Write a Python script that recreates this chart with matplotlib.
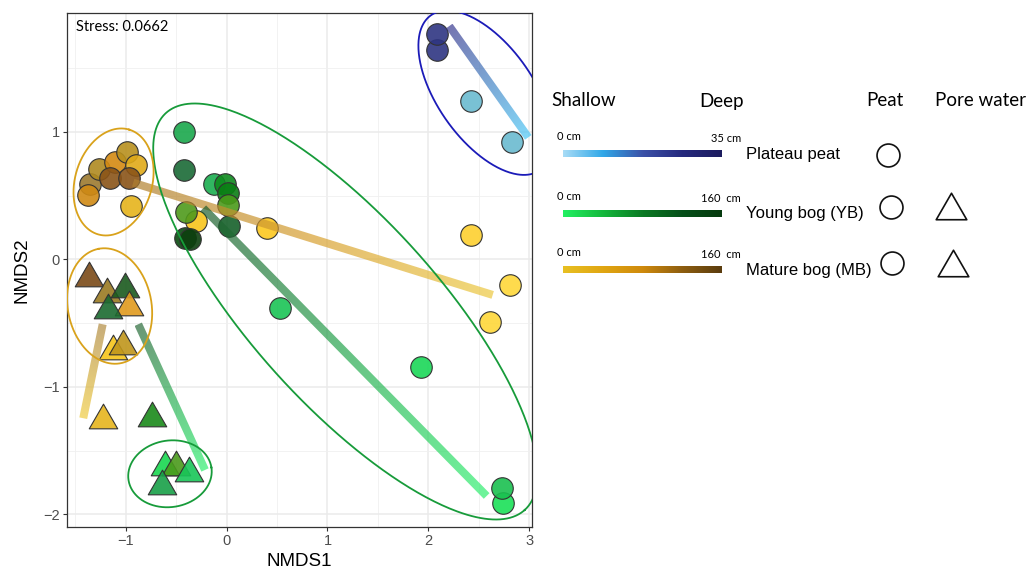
import numpy as np
import matplotlib.pyplot as plt
from matplotlib.colors import LinearSegmentedColormap, to_rgba
from matplotlib.path import Path
from matplotlib.patches import Polygon

# ---- data ----
# plateau peat (circles)
pp_x = [2.09, 2.09, 2.42, 2.83]
pp_y = [1.64, 1.77, 1.24, 0.92]
pp_col = ['#2e3582', '#2e3582', '#6bbbd0', '#6bbbd0']

# mature bog peat (circles)
mbp_x = [-1.356, -1.379, -1.267, -1.108, -0.993, -0.90, -1.158, -0.966, -0.949, -0.30, 0.40, 2.42, 2.81, 2.61]
mbp_y = [0.59, 0.506, 0.707, 0.767, 0.845, 0.74, 0.637, 0.642, 0.42, 0.30, 0.25, 0.19, -0.20, -0.49]
mbp_col = ['#9c7a30', '#d08a14', '#b08a20', '#d48a12', '#b8901e', '#e0aa18', '#8a5418', '#8a5418',
           '#e6b41c', '#f8c51c', '#fcc820', '#fdd030', '#fed83a', '#fed83a']

# young bog peat (circles)
ybp_x = [-0.42, -0.42, -0.126, -0.02, 0.01, 0.016, -0.40, 0.02, -0.41, -0.36, 0.53, 1.93, 2.74, 2.73]
ybp_y = [1.00, 0.70, 0.59, 0.59, 0.52, 0.43, 0.375, 0.265, 0.17, 0.16, -0.378, -0.84, -1.91, -1.79]
ybp_col = ['#1aa84c', '#1a6a36', '#1aae50', '#0e8a1e', '#0a7f14', '#4a9a1a', '#4f9a1c', '#16602a',
           '#0a4a10', '#0c3f0e', '#1ac455', '#1ad858', '#1ae058', '#1ac050']

# mature bog pore water (triangles)
mbw_x = [-1.363, -1.19, -1.23, -1.125, -1.03]
mbw_y = [-0.116, -0.24, -1.227, -0.69, -0.65]
mbw_col = ['#7a4a18', '#9a7a22', '#e6b51e', '#f6c51a', '#c0961c']

# young bog pore water (triangles)
ybw_x = [-1.009, -1.175, -0.74, -0.61, -0.50, -0.37, -0.64]
ybw_y = [-0.20, -0.367, -1.21, -1.60, -1.60, -1.64, -1.745]
ybw_col = ['#1a5a1e', '#1a6a30', '#1a8a1a', '#18d850', '#4a9a1c', '#18c658', '#18a048']
# orange MB pore water triangle sits above the dark green ones
mbw2_x = [-0.966]
mbw2_y = [-0.34]
mbw2_col = ['#e09a1e']

# depth trajectories: (shallow end, deep end)
traj_names = ['plateau', 'mb_peat', 'yb_peat', 'mb_pore', 'yb_pore']
traj_x0 = [2.992, 2.639, 2.579, -1.423, -0.215]
traj_y0 = [0.958, -0.278, -1.855, -1.245, -1.651]
traj_x1 = [2.208, -0.927, -0.232, -1.23, -0.877]
traj_y1 = [1.831, 0.602, 0.402, -0.508, -0.508]

# ellipses: centre, semi-axes (x units), screen angle
ell_cx = [2.568, 1.177, -1.122, -1.161, -0.5625]
ell_cy = [1.308, -0.408, 0.608, -0.365, -1.681]
ell_a = [0.940, 2.654, 0.542, 0.578, 0.416]
ell_b = [0.474, 0.920, 0.382, 0.415, 0.330]
ell_ang = [-54.8, -47.9, 73.5, 101, 8.6]
ell_col = ['#1b1bb8', '#179b3a', '#d9a21b', '#d9a21b', '#179b3a']

stress = 0.0662

# gradients shallow -> deep
cm_plateau = LinearSegmentedColormap.from_list('pl', ['#a8dcf6', '#30a8e8', '#3b52a8', '#262a7e', '#1c1c5e'])
cm_yb = LinearSegmentedColormap.from_list('yb', ['#22f062', '#14b83c', '#0b7a24', '#06501a', '#053a0e'])
cm_mb = LinearSegmentedColormap.from_list('mb', ['#e8c022', '#e0a612', '#cf8a0c', '#8e5e10', '#5a3c0e'])
line_cms = [
    LinearSegmentedColormap.from_list('l0', ['#4cc8f6', '#3a3a90']),
    LinearSegmentedColormap.from_list('l1', ['#ecc840', '#d8a030', '#b08030']),
    LinearSegmentedColormap.from_list('l2', ['#30f070', '#1e5e2e']),
    LinearSegmentedColormap.from_list('l3', ['#f0cc40', '#b08a40']),
    LinearSegmentedColormap.from_list('l4', ['#30f070', '#2a6a3a']),
]

# triangle marker with centred bounding box
tri = Path([(0, 0.433), (-0.5, -0.433), (0.5, -0.433), (0, 0.433)],
           [Path.MOVETO, Path.LINETO, Path.LINETO, Path.CLOSEPOLY])

W, H = 1027, 574
fig = plt.figure(figsize=(W / 100, H / 100), dpi=100)
ax = fig.add_axes([67.3 / W, 1 - 526.7 / H, 464.4 / W, 513.4 / H])
xlim = (-1.581, 3.026)
ylim = (-2.096, 1.931)
ax.set_xlim(xlim)
ax.set_ylim(ylim)

# grid
ax.set_xticks([-1, 0, 1, 2, 3])
ax.set_yticks([-2, -1, 0, 1])
ax.set_xticks([-1.5, -0.5, 0.5, 1.5, 2.5], minor=True)
ax.set_yticks([-1.5, -0.5, 0.5, 1.5], minor=True)
ax.grid(which='major', color='#ebebeb', lw=1.1)
ax.grid(which='minor', color='#f0f0f0', lw=0.6)
ax.set_axisbelow(True)
ax.tick_params(which='minor', length=0)
ax.tick_params(which='major', length=3, width=0.8, color='#333333', pad=2.5,
               labelsize=10.5, labelcolor='#4d4d4d')
for lab in ax.get_xticklabels() + ax.get_yticklabels():
    lab.set_fontfamily('Liberation Sans')
for s in ax.spines.values():
    s.set_color('#333333')
    s.set_linewidth(0.9)

# points
def circles(xs, ys, cols):
    for x, y, c in zip(xs, ys, cols):
        ax.plot(x, y, 'o', ms=15.5, mfc=to_rgba(c, 0.9), mec='#333333', mew=0.8, zorder=3)

def triangles(xs, ys, cols):
    for x, y, c in zip(xs, ys, cols):
        ax.plot(x, y, marker=tri, ms=20.5, mfc=to_rgba(c, 0.9), mec='#333333', mew=0.8, zorder=3)

circles(pp_x, pp_y, pp_col)
circles(mbp_x, mbp_y, mbp_col)
circles(ybp_x, ybp_y, ybp_col)
triangles(mbw_x[:2], mbw_y[:2], mbw_col[:2])
triangles(ybw_x[:1], ybw_y[:1], ybw_col[:1])
triangles(mbw2_x, mbw2_y, mbw2_col)
triangles(ybw_x[1:2], ybw_y[1:2], ybw_col[1:2])
triangles(mbw_x[2:], mbw_y[2:], mbw_col[2:])
triangles(ybw_x[2:], ybw_y[2:], ybw_col[2:])

# axes pixel scale (px per data unit)
pos = ax.get_position()
sx = pos.width * W / (xlim[1] - xlim[0])
sy = pos.height * H / (ylim[1] - ylim[0])

# gradient trajectories: gradient image clipped to a thick-line polygon
half_w = 4.0
for i in range(len(traj_names)):
    x0, y0, x1, y1 = traj_x0[i], traj_y0[i], traj_x1[i], traj_y1[i]
    px, py = (x1 - x0) * sx, (y1 - y0) * sy
    L = np.hypot(px, py)
    ox, oy = -py / L * half_w / sx, px / L * half_w / sy
    poly = np.array([(x0 + ox, y0 + oy), (x1 + ox, y1 + oy), (x1 - ox, y1 - oy), (x0 - ox, y0 - oy)])
    bx0, by0 = poly.min(axis=0)
    bx1, by1 = poly.max(axis=0)
    gx, gy = np.meshgrid(np.linspace(bx0, bx1, 300), np.linspace(by0, by1, 300))
    tt = np.clip(((gx - x0) * sx * px + (gy - y0) * sy * py) / L ** 2, 0, 1)
    img = line_cms[i](tt)
    img[..., 3] = 0.7
    im = ax.imshow(img, extent=[bx0, bx1, by0, by1], origin='lower', aspect='auto',
                   interpolation='bilinear', zorder=4)
    im.set_clip_path(Polygon(poly, closed=True, transform=ax.transData))
ax.set_xlim(xlim)
ax.set_ylim(ylim)

# ellipses (axes scale ratio so the shapes match on screen)
u = np.linspace(0, 2 * np.pi, 400)
for cx, cy, a, b, ang, c in zip(ell_cx, ell_cy, ell_a, ell_b, ell_ang, ell_col):
    th = np.deg2rad(ang)
    dx = a * np.cos(u) * np.cos(th) - b * np.sin(u) * np.sin(th)
    dy = a * np.cos(u) * np.sin(th) + b * np.sin(u) * np.cos(th)
    ax.plot(cx + dx, cy + dy * sx / sy, color=c, lw=1.3, zorder=5)

fig.text(76 / W, 1 - 27 / H, 'Stress: %.4f' % stress, fontsize=10.5, family='Lato',
         va='center', ha='left')
fig.text(299.5 / W, 1 - 562 / H, 'NMDS1', ha='center', va='center', fontsize=13.5,
         family='Liberation Sans')
fig.text(22 / W, 1 - 270 / H, 'NMDS2', ha='center', va='center', fontsize=13.5,
         family='Liberation Sans', rotation=90)

# legend drawn in pixel space
lg = fig.add_axes([0, 0, 1, 1])
lg.axis('off')
lg.patch.set_alpha(0)

for txt, x in zip(['Shallow', 'Deep', 'Peat', 'Pore water'], [551.7, 699, 866, 935]):
    lg.text(x, 101, txt, fontsize=13.5, family='Lato', va='center', ha='left')

bar_y = [154, 213.3, 270]
bar_cms = [cm_plateau, cm_yb, cm_mb]
depth_txt = ['35 cm', '160  cm', '160  cm']
names = ['Plateau peat', 'Young bog (YB)', 'Mature bog (MB)']
grad = np.linspace(0, 1, 256)[None, :]
for yb, cm, dt, nm in zip(bar_y, bar_cms, depth_txt, names):
    lg.imshow(grad, cmap=cm, extent=[562.7, 721.7, yb + 3.5, yb - 3.5], aspect='auto')
    lg.text(556.7, yb - 17, '0 cm', fontsize=8, family='Lato', va='center', ha='left')
    lg.text(741, yb - 15, dt, fontsize=8, family='Lato', va='center', ha='right')
    lg.text(746, yb, nm, fontsize=12, family='Liberation Sans', va='center', ha='left')
lg.set_xlim(0, W)
lg.set_ylim(H, 0)

lg.plot([888, 891, 892], [155, 206.7, 263.3], 'o', ms=16.5, mfc='none', mec='#111111', mew=1.2)
lg.plot([951, 953], [205.5, 263], marker=tri, ls='none', ms=22, mfc='none', mec='#111111', mew=1.2)

fig.savefig('out.png', dpi=100)
